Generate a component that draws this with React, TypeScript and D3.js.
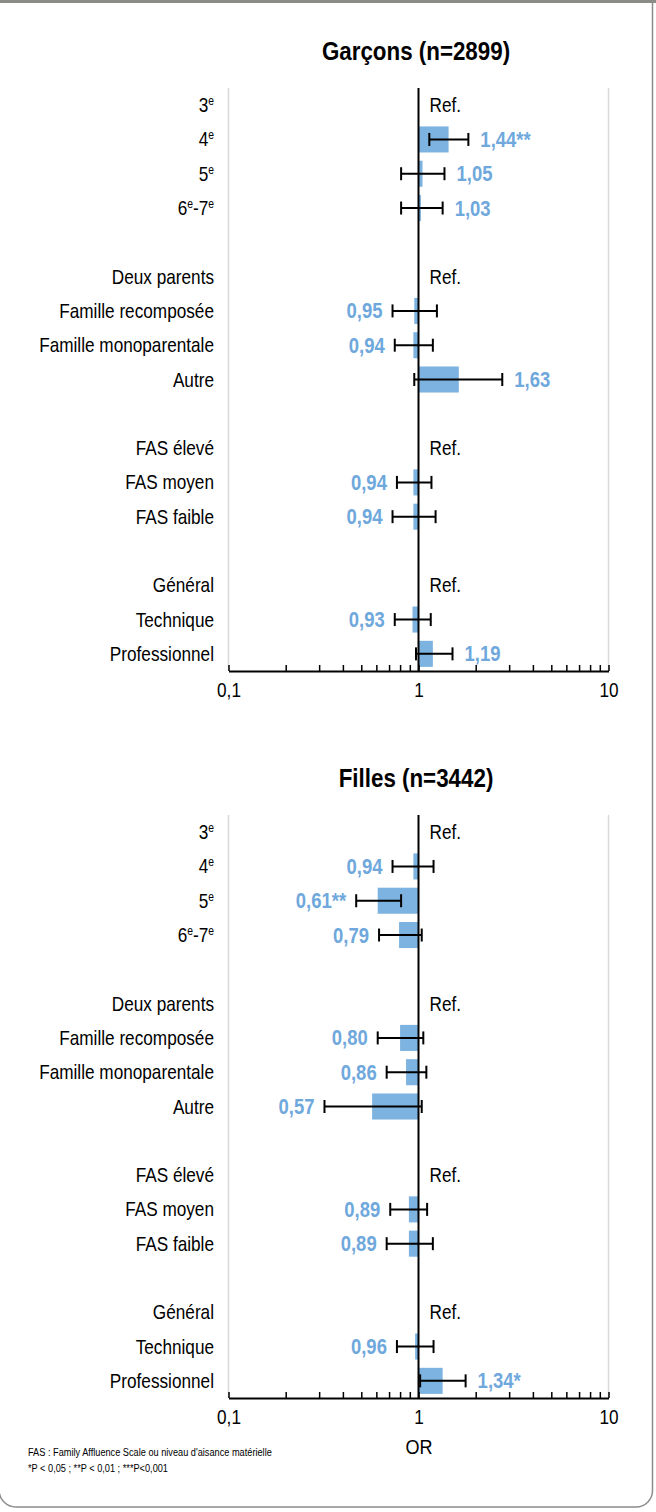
import React, { useEffect, useRef } from "react";
import * as d3 from "d3";

// row labels (empty string = spacer row)
const rowLabels = [
  "3e", "4e", "5e", "6e-7e", "",
  "Deux parents", "Famille recomposée", "Famille monoparentale", "Autre", "",
  "FAS élevé", "FAS moyen", "FAS faible", "",
  "Général", "Technique", "Professionnel",
];

// Garçons: odds ratios, CI bounds, significance (null = reference / spacer)
const boysOR = [null, 1.44, 1.05, 1.03, null, null, 0.95, 0.94, 1.63, null, null, 0.94, 0.94, null, null, 0.93, 1.19];
const boysLow = [null, 1.14, 0.81, 0.81, null, null, 0.73, 0.75, 0.95, null, null, 0.77, 0.73, null, null, 0.75, 0.97];
const boysHigh = [null, 1.83, 1.37, 1.34, null, null, 1.25, 1.19, 2.76, null, null, 1.17, 1.23, null, null, 1.16, 1.51];
const boysSig = ["", "**", "", "", "", "", "", "", "", "", "", "", "", "", "", "", ""];

// Filles
const girlsOR = [null, 0.94, 0.61, 0.79, null, null, 0.8, 0.86, 0.57, null, null, 0.89, 0.89, null, null, 0.96, 1.34];
const girlsLow = [null, 0.73, 0.47, 0.62, null, null, 0.61, 0.68, 0.32, null, null, 0.71, 0.68, null, null, 0.77, 1.02];
const girlsHigh = [null, 1.2, 0.81, 1.04, null, null, 1.06, 1.1, 1.04, null, null, 1.11, 1.19, null, null, 1.2, 1.77];
const girlsSig = ["", "", "**", "", "", "", "", "", "", "", "", "", "", "", "", "", "*"];

const majorTicks = [0.1, 1, 10];
const footnotes = [
  "FAS : Family Affluence Scale ou niveau d'aisance matérielle",
  "*P < 0,05 ; **P < 0,01 ; ***P<0,001",
];

const FONT = "'Liberation Sans', Arial, sans-serif";
const SX = 0.86; // horizontal squeeze to mimic a narrow face
const BAR = "#7db3e0";
const VALUE = "#6fa8dc";

const fr = d3.formatLocale({ decimal: ",", thousands: " ", grouping: [3], currency: ["", "€"] });
const fmtTick = fr.format("~g");
const fmtOR = fr.format(".2f");

// text placed at (x, y), squeezed horizontally around its anchor
function txt(parent: any, x: number, y: number, size: number, anchor = "start", sx = SX) {
  return parent
    .append("text")
    .attr("transform", `translate(${x},${y}) scale(${sx},1)`)
    .attr("dy", "0.35em")
    .attr("text-anchor", anchor)
    .style("font-family", FONT)
    .style("font-size", `${size}px`);
}

type Panel = {
  title: string;
  or: (number | null)[];
  low: (number | null)[];
  high: (number | null)[];
  sig: string[];
  top: number;
  bottom: number;
};

function drawPanel(svg: any, p: Panel) {
  const x = d3.scaleLog().domain([0.1, 10]).range([228.5, 608.5]);
  const y = d3
    .scaleBand()
    .domain(rowLabels.map((_, i) => String(i)))
    .range([p.top, p.bottom])
    .paddingInner(0.24)
    .paddingOuter(0.12);
  const cy = (i: number) => (y(String(i)) as number) + y.bandwidth() / 2;

  const g = svg.append("g");

  // title
  txt(g, 416, p.top - 37, 26, "middle").style("font-weight", "bold").text(p.title);

  // plot frame (left / right)
  [0.1, 10].forEach((v) => {
    g.append("line")
      .attr("x1", x(v)).attr("x2", x(v))
      .attr("y1", p.top).attr("y2", p.bottom)
      .attr("stroke", "#d9d9d9")
      .attr("stroke-width", 1.5);
  });

  // row labels, with superscript "e" after the class digits
  rowLabels.forEach((lab, i) => {
    if (!lab) return;
    const t = txt(g, 214, cy(i), 20, "end");
    if (/^\de/.test(lab)) {
      // e.g. "6e-7e" -> 6, sup e, -7, sup e
      const pieces = lab.split("e").filter((s) => s !== "");
      t.attr("dy", null);
      pieces.forEach((piece) => {
        t.append("tspan").attr("dy", 7).text(piece);
        t.append("tspan").attr("dy", -7).style("font-size", "12px").text("e");
      });
    } else {
      t.text(lab);
    }
  });

  const rows = d3.range(rowLabels.length);
  const est = rows.filter((i) => p.or[i] != null);

  // bars
  g.selectAll(".bar")
    .data(est)
    .enter()
    .append("rect")
    .attr("class", "bar")
    .attr("x", (i: number) => Math.min(x(p.or[i] as number), x(1)))
    .attr("width", (i: number) => Math.abs(x(p.or[i] as number) - x(1)))
    .attr("y", (i: number) => y(String(i)) as number)
    .attr("height", y.bandwidth())
    .attr("fill", BAR);

  // reference line at OR = 1
  g.append("line")
    .attr("x1", x(1)).attr("x2", x(1))
    .attr("y1", p.top).attr("y2", p.bottom)
    .attr("stroke", "#000")
    .attr("stroke-width", 2);

  // error bars
  est.forEach((i) => {
    const lo = x(p.low[i] as number);
    const hi = x(p.high[i] as number);
    const yy = cy(i);
    const eb = g.append("g").attr("stroke", "#000").attr("stroke-width", 2);
    eb.append("line").attr("x1", lo).attr("x2", hi).attr("y1", yy).attr("y2", yy);
    [lo, hi].forEach((xx) =>
      eb.append("line").attr("x1", xx).attr("x2", xx).attr("y1", yy - 6.5).attr("y2", yy + 6.5)
    );
  });

  // value labels / Ref.
  rowLabels.forEach((lab, i) => {
    if (!lab) return;
    const v = p.or[i];
    if (v == null) {
      txt(g, x(1) + 11, cy(i), 20).text("Ref.");
      return;
    }
    const right = v >= 1;
    txt(g, right ? x(p.high[i] as number) + 12 : x(p.low[i] as number) - 10, cy(i), 21.5, right ? "start" : "end")
      .attr("fill", VALUE)
      .style("font-weight", "bold")
      .text(fmtOR(v) + p.sig[i]);
  });

  // x axis (log), minor ticks unlabeled
  const axis = d3
    .axisBottom(x)
    .tickValues(x.ticks())
    .tickSize(-6)
    .tickSizeOuter(0)
    .tickPadding(12)
    .tickFormat((d: any) => fmtTick(+d));
  const ax = g.append("g").attr("transform", `translate(0,${p.bottom})`).call(axis);
  ax.select(".domain").attr("stroke", "#000").attr("stroke-width", 2);
  ax.selectAll(".tick line").attr("stroke", "#000").attr("stroke-width", 1.5);
  ax.selectAll(".tick text").filter((d: any) => !majorTicks.includes(+d)).remove();
  ax.selectAll(".tick text")
    .attr("fill", "#000")
    .attr("transform", `scale(${SX},1)`)
    .style("font-family", FONT)
    .style("font-size", "20px");
}

export default function App() {
  const ref = useRef<SVGSVGElement>(null);

  useEffect(() => {
    const svg = d3.select(ref.current);
    svg.selectAll("*").remove();

    // card frame
    svg.append("rect").attr("x", 0).attr("y", 0).attr("width", 656).attr("height", 3).attr("fill", "#8a8c87");
    svg.append("path")
      .attr("d", "M-1,0 V1490 A17,17 0 0 0 16,1507 H636 A16.5,16.5 0 0 0 652.5,1490.5 V0")
      .attr("fill", "none")
      .attr("stroke", "#8c8c8c")
      .attr("stroke-width", 1.5);

    drawPanel(svg, { title: "Garçons (n=2899)", or: boysOR, low: boysLow, high: boysHigh, sig: boysSig, top: 88, bottom: 671 });
    drawPanel(svg, { title: "Filles (n=3442)", or: girlsOR, low: girlsLow, high: girlsHigh, sig: girlsSig, top: 815, bottom: 1398 });

    txt(svg, 419, 1447, 21, "middle").text("OR");

    footnotes.forEach((t, k) => {
      txt(svg, 28, 1452 + k * 16, 11.5, "start", 0.8).text(t);
    });
  }, []);

  return (
    <svg
      ref={ref}
      width={656}
      height={1512}
      style={{ position: "absolute", left: 0, top: 0, background: "#fff" }}
    />
  );
}
